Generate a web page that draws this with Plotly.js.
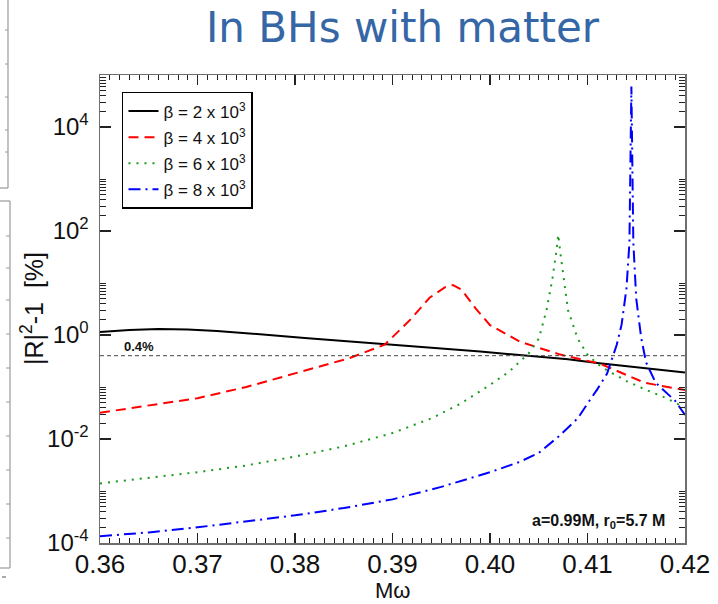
<!DOCTYPE html>
<html>
<head>
<meta charset="utf-8">
<script src="https://cdn.plot.ly/plotly-3.0.1.min.js"></script>
<style>
  html, body { margin: 0; padding: 0; background: #ffffff; }
  #chart { width: 718px; height: 604px; }
</style>
</head>
<body>
<div id="chart"></div>
<script>
// Reflectivity excess |R|^2 - 1 (in %) versus M*omega for four values of beta.
const seriesLabels = [
  "\u03b2 = 2 x 10<sup>3</sup>",
  "\u03b2 = 4 x 10<sup>3</sup>",
  "\u03b2 = 6 x 10<sup>3</sup>",
  "\u03b2 = 8 x 10<sup>3</sup>"
];

const mwBeta2 = [0.360, 0.363, 0.366, 0.369, 0.372, 0.375, 0.378, 0.381, 0.384, 0.387, 0.390,
                 0.393, 0.396, 0.399, 0.402, 0.405, 0.408, 0.411, 0.414, 0.417, 0.420];
const rBeta2  = [1.14, 1.25, 1.30, 1.28, 1.20, 1.09, 0.98, 0.88, 0.79, 0.71, 0.65,
                 0.59, 0.53, 0.48, 0.43, 0.39, 0.34, 0.29, 0.25, 0.22, 0.19];

const mwBeta4 = [0.360, 0.365, 0.370, 0.375, 0.3805, 0.3856, 0.3892, 0.3918, 0.3938, 0.3954,
                 0.3962, 0.3971, 0.3985, 0.400, 0.4031, 0.4072, 0.4113, 0.4159, 0.420];
const rBeta4  = [0.032, 0.044, 0.061, 0.10, 0.195, 0.36, 0.65, 1.95, 5.2, 8.3,
                 9.1, 7.4, 3.3, 1.55, 0.74, 0.42, 0.28, 0.12, 0.087];

const mwBeta6 = [0.360, 0.365, 0.370, 0.375, 0.380, 0.385, 0.390, 0.394, 0.397, 0.400, 0.402,
                 0.404, 0.405, 0.4058, 0.4064, 0.4068, 0.407, 0.4072, 0.4076, 0.408, 0.4085,
                 0.409, 0.410, 0.411, 0.412, 0.414, 0.416, 0.418, 0.420];
const rBeta6  = [0.0014, 0.0018, 0.0023, 0.0031, 0.0046, 0.0072, 0.013, 0.025, 0.048, 0.11, 0.20,
                 0.45, 0.85, 3.0, 12, 40, 85, 40, 12, 3.0, 1.6,
                 0.85, 0.42, 0.28, 0.21, 0.13, 0.088, 0.062, 0.040];

const mwBeta8 = [0.360, 0.365, 0.370, 0.375, 0.380, 0.385, 0.390, 0.395, 0.400, 0.403, 0.405,
                 0.407, 0.409, 0.410, 0.411, 0.412, 0.413, 0.4135, 0.414, 0.4143, 0.4145,
                 0.4147, 0.415, 0.4155, 0.416, 0.417, 0.418, 0.419, 0.420];
const rBeta8  = [1.35e-4, 1.6e-4, 2.0e-4, 2.6e-4, 3.4e-4, 4.7e-4, 6.9e-4, 1.2e-3, 2.3e-3, 3.6e-3, 5.4e-3,
                 0.011, 0.025, 0.048, 0.09, 0.18, 0.65, 1.6, 8, 60, 6e4,
                 60, 5, 0.9, 0.3, 0.12, 0.08, 0.054, 0.029];

// Horizontal reference level at 0.4 %
const refLevel = 0.4;
const refLabel = "0.4%";
const paramLabel = "a=0.99M, r<sub>0</sub>=5.7 M";
const yTitle = "|R|<sup>2</sup>-1  [%]";
const xTitle = "M\u03c9";

const xMajorTicks = [0.36, 0.37, 0.38, 0.39, 0.40, 0.41, 0.42];
const xTickText = ["0.36", "0.37", "0.38", "0.39", "0.40", "0.41", "0.42"];
const yMajorTicks = [1e-4, 1e-2, 1e0, 1e2, 1e4];
const yTickText = ["10<sup>-4</sup>", "10<sup>-2</sup>", "10<sup>0</sup>", "10<sup>2</sup>", "10<sup>4</sup>"];

// minor ticks: 2..10 x 10^n within each two-decade step, 0.001 steps along x
const yMinorTicks = [];
[-4, -2, 0, 2, 4].forEach(function (p) {
  for (let k = 2; k <= 10; k++) yMinorTicks.push(k * Math.pow(10, p));
});

const lineFont = "Liberation Sans, Arial, Helvetica, sans-serif";

function curve(x, y, name, color, dash, group) {
  return {
    x: x, y: y, name: name, type: "scatter", mode: "lines",
    legendgroup: group,
    line: { color: color, width: 2, dash: dash }
  };
}

const traces = [
  curve(mwBeta2, rBeta2, seriesLabels[0], "#000000", "solid", "a"),
  curve(mwBeta4, rBeta4, seriesLabels[1], "#ff0000", "10px,6px", "b"),
  curve(mwBeta6, rBeta6, seriesLabels[2], "#1a9a1a", "2px,6px", "c"),
  curve(mwBeta8, rBeta8, seriesLabels[3], "#0000ff", "12px,5px,2px,5px", "d"),
  {
    x: [xMajorTicks[0], xMajorTicks[xMajorTicks.length - 1]],
    y: [refLevel, refLevel],
    type: "scatter", mode: "lines", showlegend: false, hoverinfo: "skip",
    line: { color: "#444444", width: 1, dash: "4px,3px" }
  }
];

const axisCommon = {
  showgrid: false, zeroline: false,
  showline: true, linecolor: "#6e6e6e", linewidth: 1.5,
  mirror: "allticks", ticks: "inside", tickcolor: "#222222"
};

// fragments of neighbouring panels along the left edge
const edge = "#9a9a9a";
function px(x) { return (x - 100) / 585; }
function py(y) { return (543 - y) / 468; }
const shapes = [
  { type: "line", xref: "paper", yref: "paper", x0: px(8), x1: px(8), y0: py(0), y1: py(188), line: { color: edge, width: 1.2 } },
  { type: "line", xref: "paper", yref: "paper", x0: px(0), x1: px(8), y0: py(188), y1: py(188), line: { color: edge, width: 1.2 } },
  { type: "line", xref: "paper", yref: "paper", x0: px(0), x1: px(10), y0: py(201), y1: py(201), line: { color: edge, width: 1.2 } },
  { type: "line", xref: "paper", yref: "paper", x0: px(10), x1: px(10), y0: py(201), y1: py(568), line: { color: edge, width: 1.2 } },
  { type: "line", xref: "paper", yref: "paper", x0: px(0), x1: px(10), y0: py(568), y1: py(568), line: { color: edge, width: 1.2 } },
  { type: "line", xref: "paper", yref: "paper", x0: px(2), x1: px(6), y0: py(577), y1: py(577), line: { color: "#555", width: 1 } }
];
[30, 64, 97, 130, 152].forEach(function (y) {
  shapes.push({ type: "line", xref: "paper", yref: "paper", x0: px(5), x1: px(8), y0: py(y), y1: py(y), line: { color: edge, width: 1 } });
});
[236, 268, 300, 334, 368, 402, 436, 470, 504, 538].forEach(function (y) {
  shapes.push({ type: "line", xref: "paper", yref: "paper", x0: px(6), x1: px(10), y0: py(y), y1: py(y), line: { color: edge, width: 1 } });
});

const layout = {
  width: 718, height: 604,
  margin: { l: 100, r: 33, t: 75, b: 61 },
  paper_bgcolor: "#ffffff", plot_bgcolor: "#ffffff",
  showlegend: true,
  title: {
    text: "In BHs with matter",
    font: { family: "DejaVu Sans, sans-serif", size: 42, color: "#3566a6" },
    xref: "container", yref: "container",
    x: 0.5606, xanchor: "center", y: 0.955, yanchor: "middle"
  },
  xaxis: Object.assign({}, axisCommon, {
    type: "linear", range: [0.36, 0.42],
    tickmode: "array", tickvals: xMajorTicks, ticktext: xTickText,
    tickfont: { family: lineFont, size: 26, color: "#111111" },
    ticklen: 10, tickwidth: 1.2, ticklabelstandoff: -3,
    minor: { dtick: 0.001, tick0: 0.36, ticks: "inside", ticklen: 5, tickcolor: "#222222", tickwidth: 1 }
  }),
  yaxis: Object.assign({}, axisCommon, {
    type: "log", range: [-4, 5],
    tickmode: "array", tickvals: yMajorTicks, ticktext: yTickText,
    tickfont: { family: lineFont, size: 24, color: "#111111" },
    ticklen: 11, tickwidth: 1.2, ticklabelstandoff: 5,
    minor: { tickmode: "array", tickvals: yMinorTicks, ticks: "inside", ticklen: 6, tickcolor: "#222222", tickwidth: 1 }
  }),
  legend: {
    x: 0.0376, y: 0.9637, xanchor: "left", yanchor: "top",
    bgcolor: "#ffffff", bordercolor: "#000000", borderwidth: 1.5,
    font: { family: lineFont, size: 17, color: "#111111" },
    traceorder: "grouped", tracegroupgap: 1
  },
  annotations: [
    {
      xref: "paper", yref: "paper", x: px(32), y: 0.5,
      xanchor: "center", yanchor: "middle", textangle: -90, showarrow: false,
      text: yTitle,
      font: { family: lineFont, size: 25, color: "#111111" }
    },
    {
      xref: "paper", yref: "paper", x: 0.5, y: py(590),
      xanchor: "center", yanchor: "middle", showarrow: false,
      text: xTitle,
      font: { family: lineFont, size: 22, color: "#111111" }
    },
    {
      xref: "x", yref: "y", x: 0.36226, y: Math.log10(refLevel),
      xanchor: "left", yanchor: "bottom", yshift: 0, showarrow: false,
      text: "<b>" + refLabel + "</b>",
      font: { family: lineFont, size: 13, color: "#111111" }
    },
    {
      xref: "paper", yref: "paper", x: 0.97, y: 0.047,
      xanchor: "right", yanchor: "middle", showarrow: false,
      text: "<b>" + paramLabel + "</b>",
      font: { family: lineFont, size: 16, color: "#111111" }
    }
  ],
  shapes: shapes
};

Plotly.newPlot("chart", traces, layout, { displayModeBar: false, staticPlot: true });
</script>
</body>
</html>
